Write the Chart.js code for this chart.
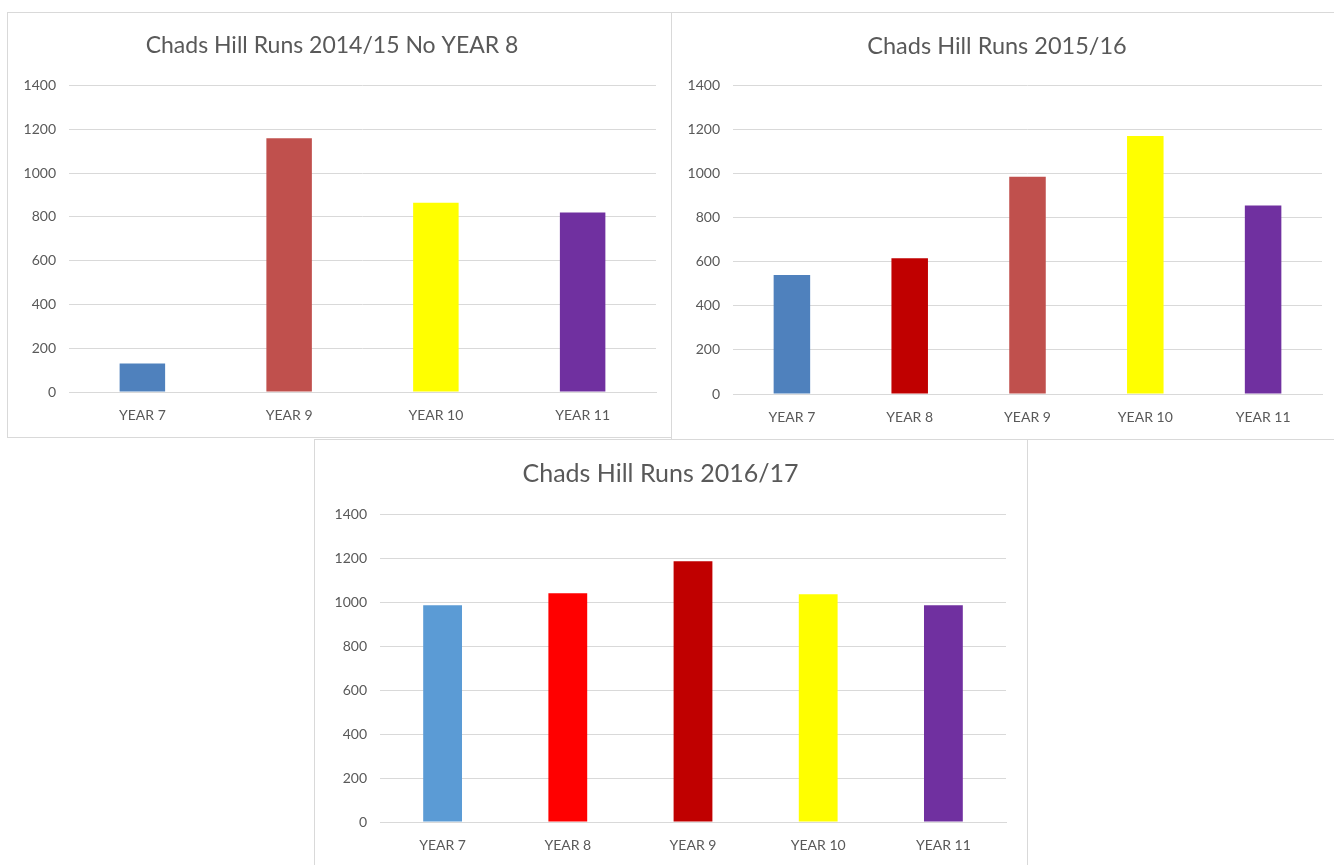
<!DOCTYPE html>
<html>
<head>
<meta charset="utf-8">
<script src="https://cdn.jsdelivr.net/npm/chart.js@4"></script>
<style>
  body { margin: 0; background: #fff; width: 1334px; height: 865px; overflow: hidden; position: relative; }
  .panel { position: absolute; border: 1px solid #d9d9d9; background: #fff; box-sizing: border-box; }
  .panel canvas { display: block; }
</style>
</head>
<body>
<div class="panel" id="p1" style="left:7px; top:12px; width:665px; height:426px;"><canvas id="c1"></canvas></div>
<div class="panel" id="p2" style="left:671px; top:12px; width:670px; height:428px;"><canvas id="c2"></canvas></div>
<div class="panel" id="p3" style="left:314px; top:439px; width:714px; height:430px;"><canvas id="c3"></canvas></div>
<script>
// Data

const cats1415 = ['YEAR 7', 'YEAR 9', 'YEAR 10', 'YEAR 11'];
const runs1415 = [130, 1160, 865, 820];
const cols1415 = ['#4F81BD', '#C0504D', '#FFFF00', '#7030A0'];

const cats1516 = ['YEAR 7', 'YEAR 8', 'YEAR 9', 'YEAR 10', 'YEAR 11'];
const runs1516 = [540, 615, 985, 1170, 855];
const cols1516 = ['#4F81BD', '#C00000', '#C0504D', '#FFFF00', '#7030A0'];

const cats1617 = ['YEAR 7', 'YEAR 8', 'YEAR 9', 'YEAR 10', 'YEAR 11'];
const runs1617 = [985, 1040, 1185, 1035, 985];
const cols1617 = ['#5B9BD5', '#FF0000', '#C00000', '#FFFF00', '#7030A0'];

const yMax = 1400;
const yStep = 200;

const FONT = 'Lato, "Open Sans", "Liberation Sans", sans-serif';
const GREY = '#595959';

// one Excel-like bar chart per panel
function makeChart(id, title, labels, values, colors, box) {
  const cv = document.getElementById(id);
  cv.width = box.w;
  cv.height = box.h;
  return new Chart(cv, {
    type: 'bar',
    data: {
      labels: labels,
      datasets: [{
        data: values,
        backgroundColor: colors,
        borderWidth: 0,
        categoryPercentage: 1,
        barPercentage: 0.31
      }]
    },
    options: {
      responsive: false,
      animation: false,
      layout: { padding: { left: 0, right: box.right, top: 0, bottom: 0 } },
      plugins: {
        legend: { display: false },
        tooltip: { enabled: false },
        title: {
          display: true,
          text: title,
          color: GREY,
          font: { family: FONT, size: box.ts, weight: 'normal' },
          padding: { top: box.titleTop, bottom: box.titleBottom }
        }
      },
      scales: {
        x: {
          grid: { display: false },
          border: { display: true, color: '#d9d9d9' },
          ticks: { color: GREY, font: { family: FONT, size: 14 }, padding: 7 },
          afterFit: function (s) { s.height = box.xh; }
        },
        y: {
          min: 0,
          max: yMax,
          ticks: {
            stepSize: yStep,
            color: GREY,
            font: { family: FONT, size: 14 },
            padding: 13,
            callback: function (v) { return String(v); }
          },
          grid: { color: '#d9d9d9', drawTicks: false },
          border: { display: false },
          afterFit: function (s) { s.width = box.yw; }
        }
      }
    }
  });
}

makeChart('c1', 'Chads Hill Runs 2014/15 No YEAR 8', cats1415, runs1415, cols1415,
  { w: 663, h: 424, right: 15, ts: 23, titleTop: 19, titleBottom: 26, xh: 45, yw: 61 });
makeChart('c2', 'Chads Hill Runs 2015/16', cats1516, runs1516, cols1516,
  { w: 668, h: 426, right: 18, ts: 23.5, titleTop: 19, titleBottom: 25, xh: 45, yw: 61 });
makeChart('c3', 'Chads Hill Runs 2016/17', cats1617, runs1617, cols1617,
  { w: 712, h: 428, right: 21, ts: 25, titleTop: 19, titleBottom: 25, xh: 46, yw: 65 });
</script>
</body>
</html>
